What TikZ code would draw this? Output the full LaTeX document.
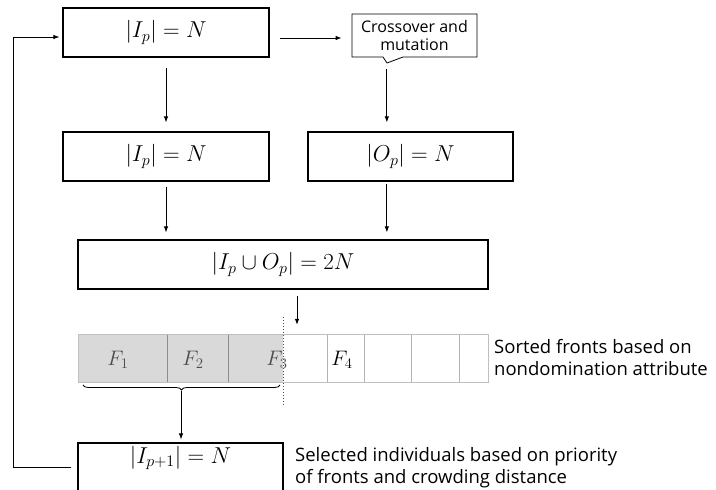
\RequirePackage{fix-cm}
\documentclass[tikz,border=0pt]{standalone}
\usepackage[no-math]{fontspec}
\newfontfamily\notefont{Open Sans}
\usetikzlibrary{arrows.meta,shapes.callouts,decorations.pathreplacing}

\tikzset{
  box/.style={rectangle, draw, line width=1.2pt, minimum width=206pt, minimum height=49pt, inner sep=0pt, font=\fontsize{23}{27}\selectfont},
  arr/.style={-{Latex[length=6pt,width=4.5pt]}, line width=0.8pt},
  note/.style={anchor=west, align=left, inner sep=0pt, font=\notefont\fontsize{18.5}{22}\selectfont},
  flab/.style={inner sep=0pt, font=\fontsize{21}{24}\selectfont}
}

\begin{document}
\begin{tikzpicture}[x=1pt, y=-1pt]
  \useasboundingbox (0,0) rectangle (716,490);
  % boxes
  \node (ip) at (166,32.5) [box] {$|I_p| = N$};
  \node (cross) at (414.5,35.5) [rectangle callout, draw, line width=0.8pt, minimum width=125pt, minimum height=43pt, inner sep=0pt, align=center, callout absolute pointer={(387,63)}, callout pointer width=20pt, font=\notefont\fontsize{16}{18}\selectfont] {Crossover and\\mutation};
  \node (ipc) at (166,156.5) [box] {$|I_p| = N$};
  \node (op) at (410.5,156.5) [box, minimum width=205pt] {$|O_p| = N$};
  \node (union) at (283,264.5) [box, minimum width=410pt] {$|I_p \cup O_p| = 2N$};
  \node (next) at (180.5,467.5) [box, minimum width=205pt, text height=16pt, text depth=25pt] {$|I_{p+1}| = N$};

  % sorted fronts
  \node (fronts) at (283,358) [minimum width=410pt, minimum height=48pt, inner sep=0pt] {};
  \fill[black!15] (fronts.north west) rectangle (fronts.south);
  \foreach \x in {167,228}
    \draw[black!45, line width=0.6pt] (\x,334) -- (\x,382);
  \foreach \x in {327,364,411,459}
    \draw[black!30, line width=0.6pt] (\x,334) -- (\x,382);
  \draw[black!25, line width=0.6pt] (fronts.north west) rectangle (fronts.south east);
  \node (f1) at (118,360) [flab, text=black!70] {$F_1$};
  \node (f2) at (193,360) [flab, text=black!70] {$F_2$};
  \node (f3) at (277,360) [flab, text=black!70] {$F_3$};
  \node (f4) at (342,360) [flab] {$F_4$};
  \draw[black!70, dotted, line width=1pt] (283,317) -- (283,405);
  \coordinate (bl) at (83,385);
  \coordinate (br) at (280,385);
  \coordinate (btip) at (181,391);
  \draw[line width=0.8pt, decorate, decoration={brace, mirror, amplitude=5pt}] (bl) -- (br);

  % notes
  \node (sortnote) at (494,358) [note] {Sorted fronts based on\\nondomination attribute};
  \node (selnote) at (295,468) [note] {Selected individuals based on priority\\of fronts and crowding distance};

  % connectors
  \coordinate (loop) at (13,37);
  \draw[arr, shorten <=10pt, shorten >=10pt] ([yshift=-5.5pt]ip.east) -- ([yshift=-5.5pt]ip.east -| cross.west);
  \draw[arr, shorten <=10pt, shorten >=9pt] (ip) -- (ipc);
  \draw[arr, shorten <=6pt, shorten >=9pt] (cross.pointer) -- (cross.pointer |- op.north);
  \draw[arr, shorten <=5pt, shorten >=7pt] (ipc.south) -- (ipc.south |- union.north);
  \draw[arr, shorten <=2pt, shorten >=7pt] (cross.pointer |- op.south) -- (cross.pointer |- union.north);
  \draw[arr, shorten <=6pt, shorten >=9pt] ([xshift=14pt]union.south) -- ([xshift=14pt]union.south |- fronts.north);
  \draw[arr, shorten >=3pt] (btip) -- (btip |- next.north);
  \draw[arr, shorten >=3pt] ([xshift=-6pt]next.west) -| (loop) -- (loop -| ip.west);
\end{tikzpicture}
\end{document}
